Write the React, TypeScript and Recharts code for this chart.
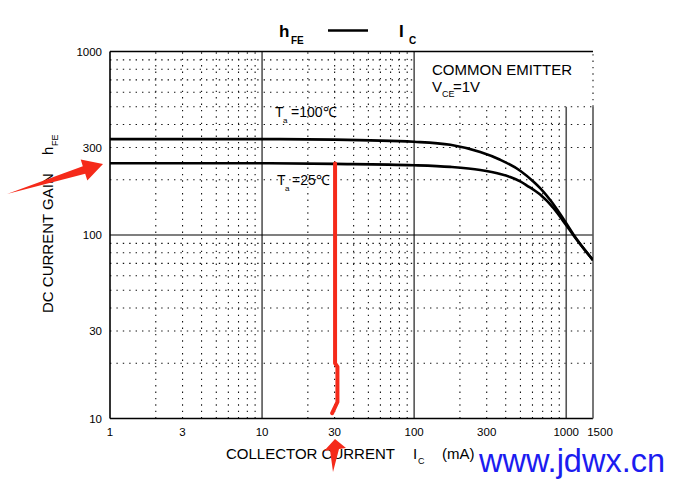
import React from 'react';
import { LineChart, Line, XAxis, YAxis, ReferenceLine } from 'recharts';

// hFE vs Ic
const current100 = [1, 10, 30, 100, 173, 272, 368, 498, 610, 674, 785, 1000, 1112, 1500];
const hfe100 = [333, 333, 331, 322, 310, 283, 257, 224, 195, 180, 155, 116, 101, 73];
const current25 = [1, 10, 30, 100, 173, 272, 368, 428, 498, 552, 674, 825, 1000, 1112, 1500];
const hfe25 = [246, 246, 244, 240, 235, 226, 215, 207, 196, 186, 166, 140, 113, 100, 73];

// red hand-drawn marker at Ic = 30 mA
const markX = [30.2, 30.2, 30.2, 31.3, 31.3, 28.9];
const markY = [245, 22.2, 20, 19.1, 12.3, 10.7];

const xTicks = [1, 3, 10, 30, 100, 300, 1000, 1500];
const yTicks = [10, 30, 100, 300, 1000];

// grid positions
const xMinor = [2, 3, 4, 5, 6, 7, 8, 9, 20, 30, 40, 50, 60, 70, 80, 90];
const xMinorShort = [200, 300, 400, 500, 600, 700, 800, 900];
const yMinor = [20, 30, 40, 50, 60, 70, 80, 90, 200, 300, 400, 500];
const yMinorShort = [600, 700, 800, 900];

const line100 = current100.map((x, i) => ({ x, y: hfe100[i] }));
const line25 = current25.map((x, i) => ({ x, y: hfe25[i] }));
const mark = markX.map((x, i) => ({ x, y: markY[i] }));

const FONT = '"Liberation Sans", Arial, sans-serif';
const DOT = '1.4 5';

const XTick = (props: any) => {
  const { x, y, payload } = props;
  const shift = payload.value === 1500 ? 7 : 0;
  return (
    <text x={x + shift} y={y} dy="0.71em" textAnchor="middle" fontSize={11.5} fontFamily={FONT} fill="#000">
      {payload.value}
    </text>
  );
};

export default function App() {
  return (
    <div style={{ position: 'absolute', left: 0, top: 0, width: 678, height: 490, background: '#fff' }}>
      <LineChart
        width={678}
        height={490}
        margin={{ top: 51.5, right: 85, bottom: 41.5, left: 0 }}
      >
        <XAxis
          dataKey="x"
          type="number"
          scale="log"
          domain={[1, 1500]}
          ticks={xTicks}
          allowDataOverflow
          axisLine={false}
          tickLine={false}
          tickSize={0}
          tickMargin={9.5}
          height={30}
          tick={<XTick />}
          interval={0}
        />
        <YAxis
          dataKey="y"
          type="number"
          scale="log"
          domain={[10, 1000]}
          ticks={yTicks}
          allowDataOverflow
          axisLine={false}
          tickLine={false}
          tickSize={0}
          tickMargin={8}
          width={110}
          interval={0}
          tick={{ fontSize: 11.5, fontFamily: FONT, fill: '#000' }}
        />

        {xMinor.map((v) => (
          <ReferenceLine key={'xm' + v} segment={[{ x: v, y: 10 }, { x: v, y: 1000 }]} stroke="#111" strokeWidth={1.1} strokeDasharray={DOT} />
        ))}
        {xMinorShort.map((v) => (
          <ReferenceLine key={'xs' + v} segment={[{ x: v, y: 10 }, { x: v, y: 500 }]} stroke="#111" strokeWidth={1.1} strokeDasharray={DOT} />
        ))}
        {yMinor.map((v) => (
          <ReferenceLine key={'ym' + v} segment={[{ x: 1, y: v }, { x: 1500, y: v }]} stroke="#111" strokeWidth={1.1} strokeDasharray={DOT} />
        ))}
        {yMinorShort.map((v) => (
          <ReferenceLine key={'ys' + v} segment={[{ x: 1, y: v }, { x: 100, y: v }]} stroke="#111" strokeWidth={1.1} strokeDasharray={DOT} />
        ))}

        <ReferenceLine segment={[{ x: 10, y: 10 }, { x: 10, y: 1000 }]} stroke="#555" strokeWidth={1.6} />
        <ReferenceLine segment={[{ x: 100, y: 10 }, { x: 100, y: 1000 }]} stroke="#555" strokeWidth={1.6} />
        <ReferenceLine segment={[{ x: 1000, y: 10 }, { x: 1000, y: 500 }]} stroke="#555" strokeWidth={1.6} />
        <ReferenceLine segment={[{ x: 1, y: 100 }, { x: 1500, y: 100 }]} stroke="#000" strokeWidth={1.2} />

        {/* frame */}
        <ReferenceLine segment={[{ x: 1, y: 10 }, { x: 1, y: 1000 }]} stroke="#000" strokeWidth={1.6} />
        <ReferenceLine segment={[{ x: 1, y: 10 }, { x: 1500, y: 10 }]} stroke="#000" strokeWidth={1.6} />
        <ReferenceLine segment={[{ x: 1, y: 1000 }, { x: 1500, y: 1000 }]} stroke="#000" strokeWidth={1.6} />
        <ReferenceLine segment={[{ x: 1500, y: 10 }, { x: 1500, y: 500 }]} stroke="#555" strokeWidth={1.6} />
        <ReferenceLine segment={[{ x: 1500, y: 500 }, { x: 1500, y: 1000 }]} stroke="#111" strokeWidth={1.1} strokeDasharray={DOT} />

        <Line data={line100} dataKey="y" type="monotone" stroke="#000" strokeWidth={2.6} dot={false} isAnimationActive={false} />
        <Line data={line25} dataKey="y" type="monotone" stroke="#000" strokeWidth={2.6} dot={false} isAnimationActive={false} />
        <Line data={mark} dataKey="y" type="linear" stroke="#f52a1a" strokeWidth={4} strokeLinecap="round" strokeLinejoin="round" dot={false} isAnimationActive={false} />
      </LineChart>

      <svg width={678} height={490} style={{ position: 'absolute', left: 0, top: 0, pointerEvents: 'none' }} fontFamily={FONT}>
        {/* title */}
        <text x={279} y={37} fontSize={17} fontWeight="bold">h</text>
        <text x={291} y={44} fontSize={10} fontWeight="bold">FE</text>
        <line x1={328} y1={30.5} x2={368} y2={30.5} stroke="#000" strokeWidth={2.6} />
        <text x={399} y={37} fontSize={17} fontWeight="bold">I</text>
        <text x={409} y={44} fontSize={10} fontWeight="bold">C</text>

        {/* axis titles */}
        <g transform="translate(53,313) rotate(-90)">
          <text x={0} y={0} fontSize={15}>DC CURRENT GAIN</text>
          <text x={158} y={0} fontSize={15}>h</text>
          <text x={167} y={5} fontSize={9}>FE</text>
        </g>
        <text x={226} y={459} fontSize={15}>COLLECTOR CURRENT</text>
        <text x={413} y={459} fontSize={15}>I</text>
        <text x={418} y={464} fontSize={9}>C</text>
        <text x={442} y={459} fontSize={15}>(mA)</text>

        {/* condition box */}
        <text x={432} y={75} fontSize={15}>COMMON EMITTER</text>
        <text x={432} y={92} fontSize={15}>V</text>
        <text x={442} y={97} fontSize={9}>CE</text>
        <text x={453} y={92} fontSize={15}>=1V</text>

        {/* curve labels */}
        <text x={275} y={117} fontSize={14}>T</text>
        <text x={283} y={123} fontSize={8}>a</text>
        <text x={291} y={117} fontSize={14}>=100℃</text>
        <text x={277} y={185} fontSize={14}>T</text>
        <text x={285} y={191} fontSize={8}>a</text>
        <text x={292} y={185} fontSize={14}>=25℃</text>

        {/* red arrows */}
        <polygon points="7,194 82.8,166.2 80.7,159.5 103,164 87.3,180.5 85.2,173.8" fill="#f52a1a" />
        <polygon points="335,439 346,448 339,449 333,472 330,450 324,451" fill="#f52a1a" />

        {/* watermark */}
        <text x={479} y={472} fontSize={32.5} fill="#1c1cf0">www.jdwx.cn</text>
      </svg>
    </div>
  );
}
